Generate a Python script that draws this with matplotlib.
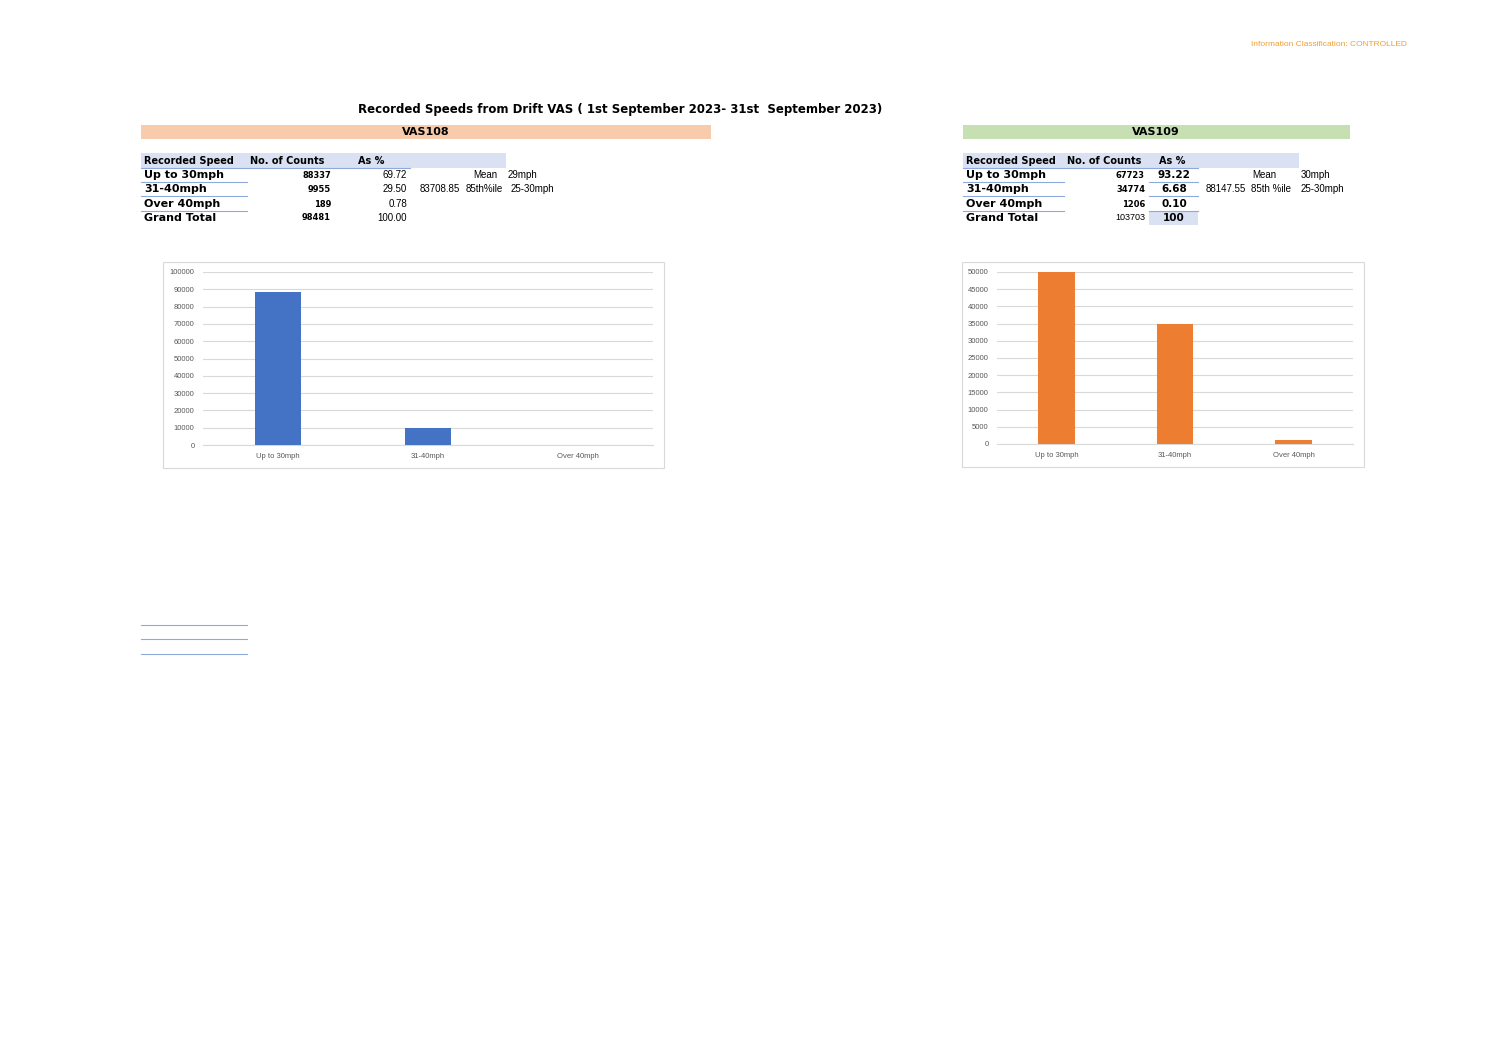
import matplotlib
matplotlib.use("Agg")
import matplotlib.pyplot as plt
from matplotlib.patches import Rectangle
from matplotlib.lines import Line2D

W, H = 1497, 1058
categories = ["Up to 30mph", "31-40mph", "Over 40mph"]
vas108_counts = [88337, 9955, 189]
vas108_pct = ["69.72", "29.50", "0.78"]
vas108_total = "98481"
vas108_total_pct = "100.00"
vas109_counts = [67723, 34774, 1206]
vas109_pct = ["93.22", "6.68", "0.10"]
vas109_total = "103703"
vas109_total_pct = "100"
vas108_yticks = list(range(0, 100001, 10000))
vas109_yticks = list(range(0, 50001, 5000))

fig = plt.figure(figsize=(W/100, H/100), dpi=100)
FONT = "DejaVu Sans"
SMALL = "Liberation Sans"

def P(x, y):
    return x / W, 1 - y / H

def txt(x, y, s, ha="left", size=6.5, bold=False, color="black", fam=None):
    fx, fy = P(x, y)
    fig.text(fx, fy, s, ha=ha, va="center", fontsize=size,
             fontweight="bold" if bold else "normal", color=color,
             family=fam or (FONT if bold else SMALL))

def rect(x0, y0, x1, y1, fc, ec="none", lw=0):
    fig.patches.append(Rectangle(P(x0, y1), (x1-x0)/W, (y1-y0)/H, transform=fig.transFigure,
                                 facecolor=fc, edgecolor=ec, linewidth=lw, zorder=0))

def hline(x0, x1, y, color="#8EA9DB", lw=0.8):
    fig.add_artist(Line2D([x0/W, x1/W], [1-y/H, 1-y/H], transform=fig.transFigure, color=color, lw=lw))

txt(1407, 44, "Information Classification: CONTROLLED", ha="right", size=6, color="#F0A030")
txt(620, 110, "Recorded Speeds from Drift VAS ( 1st September 2023- 31st  September 2023)", ha="center", size=8.5, bold=True)

# Left block
rect(141, 125, 711, 139, "#F8CBAD")
txt(426, 132, "VAS108", ha="center", size=8, bold=True)
rect(141, 153, 506, 168, "#D9E1F2")
hline(141, 410, 168)
txt(144, 161, "Recorded Speed", size=7, bold=True)
txt(250, 161, "No. of Counts", size=7, bold=True)
txt(358, 161, "As %", size=7, bold=True)
rows = categories + ["Grand Total"]
ys = [175, 189, 204, 218]
for i, (lab, y) in enumerate(zip(rows, ys)):
    txt(144, y, lab, size=8, bold=True)
    if i < 3:
        txt(331, y, str(vas108_counts[i]), ha="right", size=6, bold=True)
        txt(407, y, vas108_pct[i], ha="right", size=7)
        hline(141, 247, y + 7)
    else:
        txt(331, y, vas108_total, ha="right", size=6, bold=True)
        txt(407, y, vas108_total_pct, ha="right", size=7)
txt(497, 175, "Mean", ha="right", size=7)
txt(508, 175, "29mph", size=7)
txt(420, 189, "83708.85", size=7)
txt(466, 189, "85th%ile", size=7)
txt(511, 189, "25-30mph", size=7)

# Right block
rect(963, 125, 1350, 139, "#C6E0B4")
txt(1156, 132, "VAS109", ha="center", size=8, bold=True)
rect(963, 153, 1299, 168, "#D9E1F2")
hline(963, 1198, 168)
txt(966, 161, "Recorded Speed", size=7, bold=True)
txt(1067, 161, "No. of Counts", size=7, bold=True)
txt(1159, 161, "As %", size=7, bold=True)
rect(1149, 211, 1198, 225, "#D9E1F2")
for i, (lab, y) in enumerate(zip(rows, ys)):
    txt(966, y, lab, size=8, bold=True)
    if i < 3:
        txt(1145, y, str(vas109_counts[i]), ha="right", size=6, bold=True)
        txt(1174, y, vas109_pct[i], ha="center", size=7.5, bold=True)
        hline(963, 1064, y + 7)
        hline(1149, 1198, y + 7)
    else:
        txt(1145, y, vas109_total, ha="right", size=6.5)
        txt(1174, y, vas109_total_pct, ha="center", size=7.5, bold=True)
txt(1276, 175, "Mean", ha="right", size=7)
txt(1301, 175, "30mph", size=7)
txt(1206, 189, "88147.55", size=7)
txt(1251, 189, "85th %ile", size=7)
txt(1301, 189, "25-30mph", size=7)

for y in (625, 639, 654):
    hline(141, 247, y)

# chart boxes
rect(163, 262, 664, 468, "white", ec="#D9D9D9", lw=0.8)
rect(962, 262, 1364, 467, "white", ec="#D9D9D9", lw=0.8)

def chart(x0, y0, x1, y1, vals, color, yt):
    fx, fy = P(x0, y1)
    ax = fig.add_axes([fx, fy, (x1-x0)/W, (y1-y0)/H])
    ax.set_zorder(10)
    ax.bar(range(3), vals, width=0.31, color=color, zorder=3)
    ax.set_xlim(-0.5, 2.5)
    ax.set_ylim(0, yt[-1])
    ax.set_yticks(yt)
    ax.set_yticklabels([str(v) for v in yt], fontsize=5.5, color="#595959", family=SMALL)
    ax.set_xticks(range(3))
    ax.set_xticklabels(categories, fontsize=5.5, color="#595959", family=SMALL)
    ax.grid(axis="y", color="#D9D9D9", lw=0.8, zorder=0)
    for s in ax.spines.values():
        s.set_visible(False)
    ax.spines["bottom"].set_visible(True)
    ax.spines["bottom"].set_color("#D9D9D9")
    ax.tick_params(length=0, pad=6)
    ax.patch.set_alpha(0)

chart(203, 272, 653, 445, vas108_counts, "#4472C4", vas108_yticks)
chart(997, 272, 1353, 444, vas109_counts, "#ED7D31", vas109_yticks)

fig.savefig("out.png", dpi=100)
